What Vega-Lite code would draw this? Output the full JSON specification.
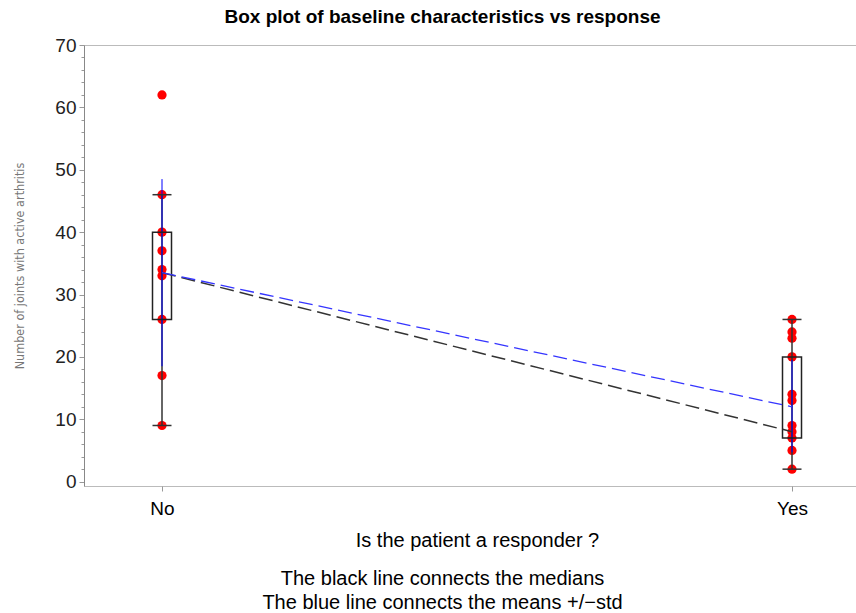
{
  "$schema": "https://vega.github.io/schema/vega-lite/v6.json",
  "autosize": {"type": "none"},
  "padding": {"left": 84, "top": 45, "right": 0, "bottom": 127},
  "width": 773,
  "height": 441,
  "config": {"view": {"stroke": "#bbbbbb"}, "font": "Liberation Sans", "axisY": {"labelOverlap": false, "labelFlush": false}},
  "title": {"text": "Box plot of baseline characteristics vs response", "fontSize": 19, "fontWeight": "bold", "color": "#000000", "anchor": "middle", "dx": -28, "offset": 9},
  "datasets": {
    "points": [
      {"group": "No", "value": 62}, {"group": "No", "value": 46}, {"group": "No", "value": 40},
      {"group": "No", "value": 37}, {"group": "No", "value": 34}, {"group": "No", "value": 33},
      {"group": "No", "value": 26}, {"group": "No", "value": 17}, {"group": "No", "value": 9},
      {"group": "Yes", "value": 26}, {"group": "Yes", "value": 24}, {"group": "Yes", "value": 23},
      {"group": "Yes", "value": 20}, {"group": "Yes", "value": 14}, {"group": "Yes", "value": 13},
      {"group": "Yes", "value": 9}, {"group": "Yes", "value": 8}, {"group": "Yes", "value": 7},
      {"group": "Yes", "value": 5}, {"group": "Yes", "value": 2}
    ],
    "stats": [
      {"group": "No", "q1": 26, "q3": 40, "lower": 9, "upper": 46, "median": 33.5, "mean": 33.5, "sdlow": 18.5, "sdhigh": 48.5},
      {"group": "Yes", "q1": 7, "q3": 20, "lower": 2, "upper": 26, "median": 8, "mean": 12, "sdlow": 4.7, "sdhigh": 19.5}
    ]
  },
  "resolve": {"axis": {"x": "independent"}},
  "layer": [
    {
      "layer": [
        {
          "data": {"name": "points"},
          "mark": {"type": "circle", "size": 85, "color": "#ff0000", "opacity": 1},
          "encoding": {
            "x": {"field": "group", "type": "ordinal", "scale": {"type": "point", "range": [78, 708], "padding": 0},
              "axis": {"title": "Is the patient a responder ?", "titleFontSize": 20, "titleFontWeight": "normal", "titleColor": "#000000", "titlePadding": 12,
                "labelFontSize": 19, "labelColor": "#000000", "labelAngle": 0, "labelPadding": 8, "tickSize": 5, "tickColor": "#999999", "domain": false, "grid": false}},
            "y": {"field": "value", "type": "quantitative", "scale": {"domain": [-0.7, 70], "nice": false, "zero": false},
              "axis": {"values": [0,2,4,6,8,10,12,14,16,18,20,22,24,26,28,30,32,34,36,38,40,42,44,46,48,50,52,54,56,58,60,62,64,66,68,70],
                "tickCount": 100, "format": "d",
                "labelExpr": "datum.value % 10 === 0 ? datum.label : ''", "labelFlush": false, "labelOverlap": false,
                "tickSize": {"condition": {"test": "datum.value % 10 === 0", "value": 5}, "value": 3},
                "tickColor": "#999999", "domainColor": "#888888", "grid": false,
                "labelFontSize": 19, "labelColor": "#222222", "labelPadding": 3,
                "title": "Number of joints with active arthritis", "titleFont": "DejaVu Sans Condensed", "titleFontSize": 12.5, "titleFontWeight": "normal", "titleColor": "#777777", "titlePadding": 28}}
          }
        },
        {
          "data": {"name": "stats"},
          "mark": {"type": "rule", "color": "#333333", "strokeWidth": 1.5},
          "encoding": {"x": {"field": "group", "type": "ordinal"}, "y": {"field": "lower", "type": "quantitative"}, "y2": {"field": "upper"}}
        },
        {
          "data": {"name": "stats"},
          "mark": {"type": "rule", "color": "#0000ff", "strokeWidth": 1},
          "encoding": {"x": {"field": "group", "type": "ordinal"}, "y": {"field": "sdlow", "type": "quantitative"}, "y2": {"field": "sdhigh"}}
        },
        {
          "data": {"name": "stats"},
          "mark": {"type": "bar", "size": 19, "fill": "transparent", "stroke": "#222222", "strokeWidth": 1.5},
          "encoding": {"x": {"field": "group", "type": "ordinal"}, "y": {"field": "q1", "type": "quantitative"}, "y2": {"field": "q3"}}
        },
        {
          "data": {"name": "stats"},
          "mark": {"type": "tick", "size": 19, "thickness": 1.5, "color": "#333333", "opacity": 1},
          "encoding": {"x": {"field": "group", "type": "ordinal"}, "y": {"field": "lower", "type": "quantitative"}}
        },
        {
          "data": {"name": "stats"},
          "mark": {"type": "tick", "size": 19, "thickness": 1.5, "color": "#333333", "opacity": 1},
          "encoding": {"x": {"field": "group", "type": "ordinal"}, "y": {"field": "upper", "type": "quantitative"}}
        },
        {
          "data": {"name": "stats"},
          "mark": {"type": "line", "color": "#333333", "strokeWidth": 1.5, "strokeDash": [14, 6]},
          "encoding": {"x": {"field": "group", "type": "ordinal"}, "y": {"field": "median", "type": "quantitative"}}
        },
        {
          "data": {"name": "stats"},
          "mark": {"type": "line", "color": "#3535ff", "strokeWidth": 1.3, "strokeDash": [14, 6]},
          "encoding": {"x": {"field": "group", "type": "ordinal"}, "y": {"field": "mean", "type": "quantitative"}}
        }
      ]
    },
    {
      "data": {"name": "stats"},
      "mark": {"type": "point", "opacity": 0},
      "encoding": {
        "x": {"field": "group", "type": "ordinal",
          "axis": {"orient": "bottom", "labels": false, "ticks": false, "domain": false, "grid": false,
            "title": ["The black line connects the medians", "The blue line connects the means +/−std"],
            "titleFontSize": 20, "titleFontWeight": "normal", "titleColor": "#000000", "titleLineHeight": 24, "titlePadding": 82, "titleX": 358}},
        "y": {"field": "median", "type": "quantitative"}
      }
    }
  ]
}
